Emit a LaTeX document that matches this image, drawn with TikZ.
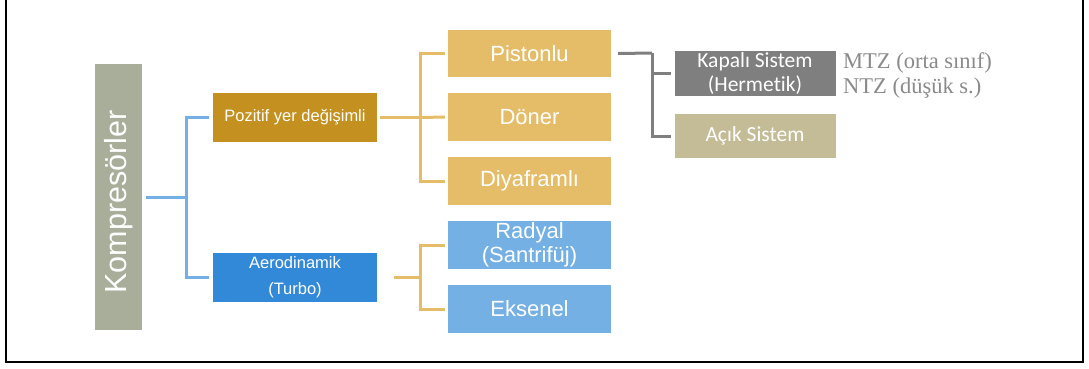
\documentclass[tikz,border=0pt]{standalone}
\usepackage{fontspec}
\setmainfont{Liberation Sans}
\newfontfamily\calib[Ligatures=NoCommon]{Carlito}
\newfontfamily\serifb{Liberation Serif}
\definecolor{kgray}{HTML}{A8AE9A}
\definecolor{pgold}{HTML}{C4901F}
\definecolor{ablue}{HTML}{3289D8}
\definecolor{ybox}{HTML}{E5BD68}
\definecolor{lbox}{HTML}{74B0E4}
\definecolor{dgray}{HTML}{7F7F7F}
\definecolor{tan}{HTML}{C4BC97}
\definecolor{ttext}{HTML}{8A8A8A}
\tikzset{
  box/.style={draw=none, text=white, align=center, inner sep=0pt, outer sep=0pt},
  big/.style={box, minimum width=163pt, minimum height=48pt, font=\fontsize{22}{24}\selectfont},
  mid/.style={box, minimum width=164pt, minimum height=49pt, font=\fontsize{16.5}{26}\selectfont},
  sys/.style={box, minimum width=161pt, minimum height=45pt, font=\calib\fontsize{21.5}{23.5}\selectfont},
  bline/.style={draw=lbox, line width=3pt},
  yline/.style={draw=ybox, line width=3pt},
  gline/.style={draw=dgray, line width=3pt},
}
\begin{document}
\begin{tikzpicture}[x=1pt,y=-1pt]
\useasboundingbox (0,0) rectangle (1089,368);
\draw[line width=2pt] (6,-2) -- (6,362) -- (1083,362) -- (1083,-2);

\node[box, fill=kgray, minimum width=47pt, minimum height=266pt] (k) at (118.5,197) {};
\node[text=white, font=\fontsize{30.5}{32}\selectfont, rotate=90, inner sep=0pt] (kt) at (118.5,202) {Kompresörler};

\node[mid, fill=pgold] (pz) at (295,117.5) {Pozitif yer değişimli};
\node[mid, fill=ablue] (ae) at (295,277) {Aerodinamik\\(Turbo)};

\node[big, fill=ybox, minimum height=47pt] (pi) at (529.5,53.5) {Pistonlu};
\node[big, fill=ybox] (do) at (529.5,117) {Döner};
\node[big, fill=ybox] (di) at (529.5,181) {Diyaframlı};
\node[big, fill=lbox] (ra) at (529.5,245) {Radyal\\(Santrifüj)};
\node[big, fill=lbox] (ek) at (529.5,309) {Eksenel};

\node[sys, fill=dgray] (ka) at (755,73.5) {Kapalı Sistem\\(Hermetik)};
\node[sys, fill=tan, minimum height=44pt] (ac) at (755,136) {Açık Sistem};

\node[anchor=west, align=left, text=ttext, inner sep=0pt, font=\serifb\fontsize{22.5}{25}\selectfont] (mt) at (843,75) {MTZ (orta sınıf)\\NTZ (düşük s.)};

% blue connectors
\coordinate (bj) at (186,197);
\path[bline] ([xshift=4pt]k.east) -- (bj);
\path[bline] (bj) |- ([xshift=-4pt]pz.west);
\path[bline] (bj) |- ([xshift=-4pt]ae.west);

% yellow connectors
\coordinate (yj) at (420,117.5);
\path[yline] ([xshift=3pt]pz.east) -- (yj);
\path[yline] (yj) |- ([xshift=-3pt]pi.west);
\path[yline] (yj) |- ([xshift=-3pt]di.west);
\path[yline] (yj) -- ([xshift=-3pt]do.west);

\coordinate (aj) at (420,277);
\path[yline] ([xshift=17pt]ae.east) -- (aj);
\path[yline] (aj) |- ([xshift=-3pt]ra.west);
\path[yline] (aj) |- ([xshift=-3pt]ek.west);

% gray connectors
\coordinate (gj) at (652,53);
\path[gline] ([xshift=7pt]pi.east) -- (gj);
\path[gline] (gj) |- ([xshift=-4pt]ac.west);
\path[gline] (gj |- ka.west) -- ([xshift=-4pt]ka.west);
\end{tikzpicture}
\end{document}
